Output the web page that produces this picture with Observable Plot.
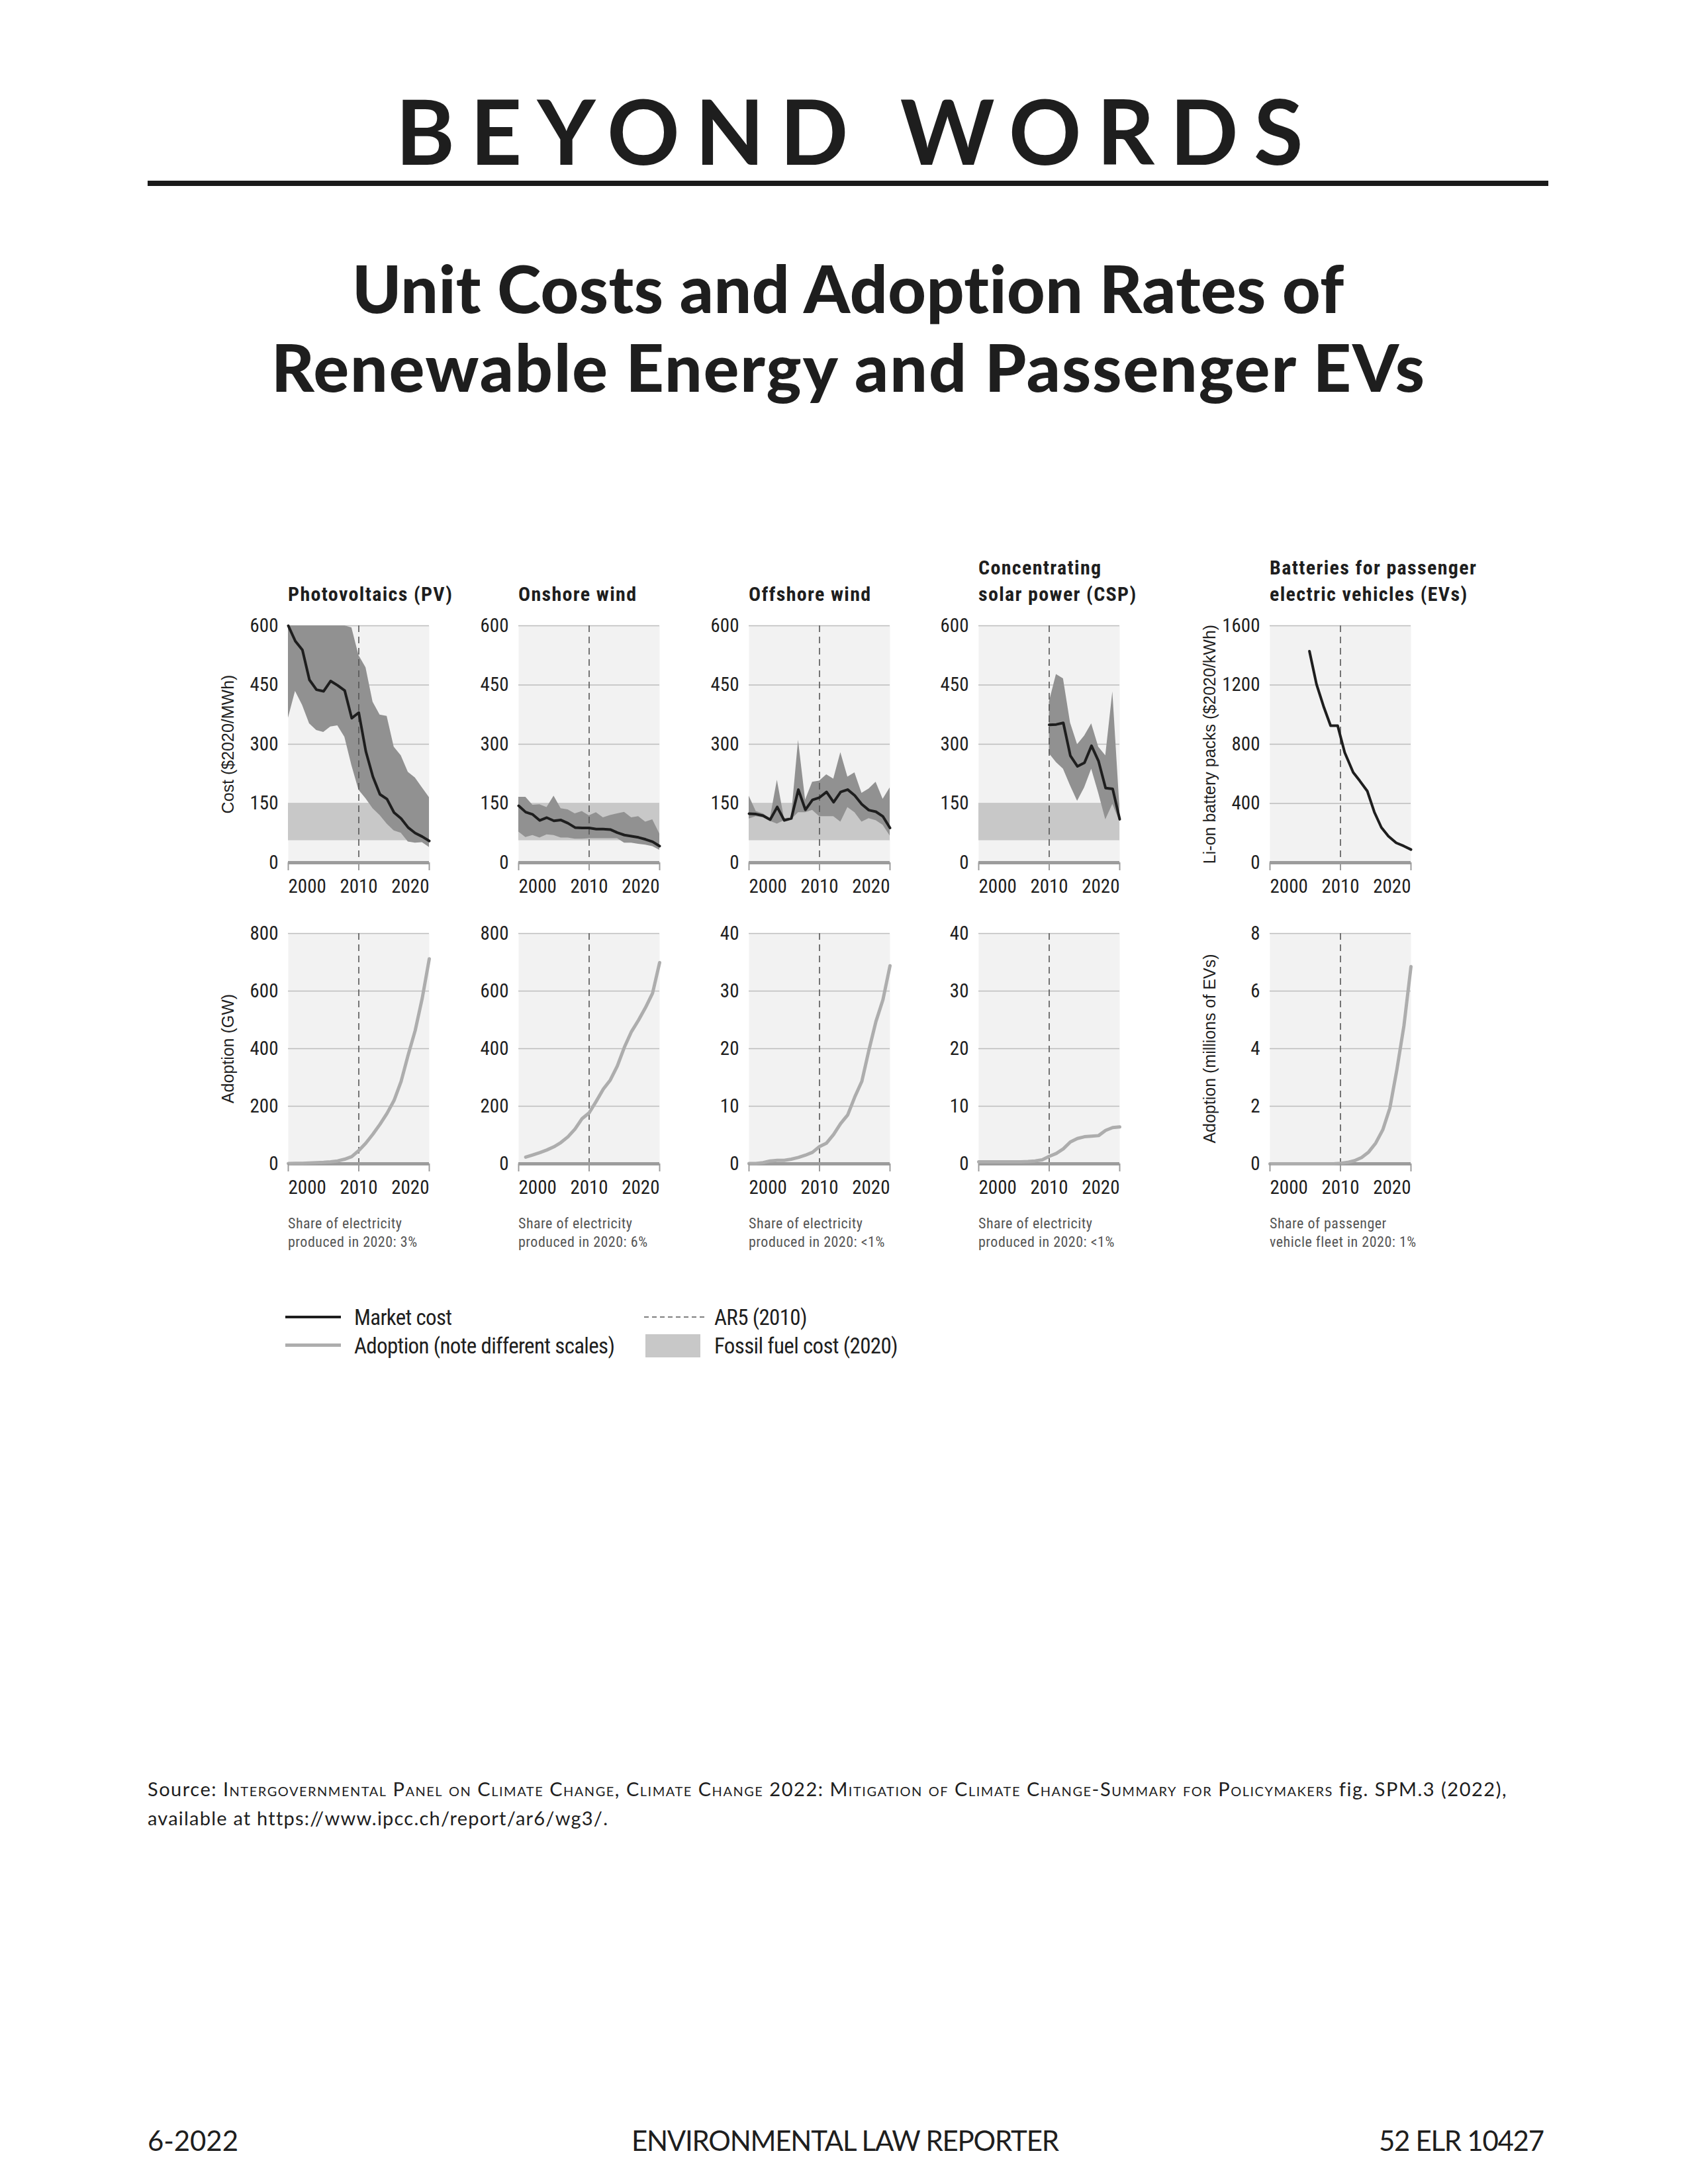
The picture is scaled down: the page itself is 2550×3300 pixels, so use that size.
<!DOCTYPE html>
<html>
<head>
<meta charset="utf-8">
<script src="https://cdn.jsdelivr.net/npm/d3@7"></script>
<script src="https://cdn.jsdelivr.net/npm/@observablehq/plot@0.6"></script>
<style>
html, body { margin: 0; padding: 0; background: #fff; }
#page { position: relative; width: 2550px; height: 3300px; background: #fff; overflow: hidden; color: #1a1a1a; }
#page svg { position: absolute; }
</style>
</head>
<body>
<div id="page"></div>
<script>
// ---------------- DATA ----------------
const years = [2000,2001,2002,2003,2004,2005,2006,2007,2008,2009,2010,2011,2012,2013,2014,2015,2016,2017,2018,2019,2020];

// Unit costs, $2020/MWh (PV upper band is off the scale before 2009; shown at the 600 ceiling)
const pvCost      = [600,561,539,463,438,434,460,449,436,366,380,282,218,173,161,127,112,89,75,66,55];
const pvCostLow   = [366,434,399,352,335,330,344,347,318,246,184,162,137,120,98,81,75,53,50,51,39];
const pvCostHigh  = [600,600,600,600,600,600,600,600,600,595,525,494,407,374,371,293,271,229,215,190,165];

const onshoreCost     = [144,128,122,107,114,106,108,100,89,88,88,85,85,84,76,70,67,64,59,53,42];
const onshoreCostLow  = [78,64,69,63,71,69,63,63,60,60,61,61,61,61,61,50,50,47,45,41,32];
const onshoreCostHigh = [166,166,146,147,140,169,137,134,124,130,119,127,114,120,124,128,114,117,103,109,73];

const offshoreCost     = [124,123,119,109,141,107,112,185,134,159,165,179,153,179,185,170,148,133,129,117,88];
const offshoreCostLow  = [111,117,114,105,98,107,109,127,127,133,117,117,117,103,140,127,103,112,107,95,68];
const offshoreCostHigh = [169,130,124,112,209,112,114,310,159,204,207,223,212,279,217,228,176,187,204,161,190];

const cspYears    = [2010,2011,2012,2013,2014,2015,2016,2017,2018,2019,2020];
const cspCost     = [349,350,354,271,244,253,296,257,189,187,110];
const cspCostLow  = [276,254,237,195,156,190,237,176,109,148,105];
const cspCostHigh = [407,477,466,354,299,321,352,293,271,433,140];

// Li-on battery packs, $2020/kWh
const batteryYears = [2005.6,2006.6,2007.6,2008.6,2009.6,2010.6,2011.8,2012.7,2013.8,2014.8,2015.8,2016.8,2017.9,2019.0,2020];
const batteryCost  = [1428,1205,1056,925,925,744,610,555,484,342,238,179,134,112,89];

// Adoption
const pvAdoption       = [1,1.5,2,3,4,5,7,10,16,25,46,72,103,137,175,220,286,378,463,575,712];           // GW
const onshoreYears     = [2001,2002,2003,2004,2005,2006,2007,2008,2009,2010,2011,2012,2013,2014,2015,2016,2017,2018,2019,2020];
const onshoreAdoption  = [23,31,39,48,59,74,94,121,157,177,217,259,291,340,405,459,499,543,593,699];   // GW
const offshoreAdoption = [0.05,0.05,0.2,0.5,0.6,0.6,0.8,1.1,1.5,2.0,3.0,3.6,5.1,7.0,8.5,11.6,14.3,19.7,24.7,28.5,34.4]; // GW
const cspAdoption      = [0.35,0.35,0.35,0.35,0.35,0.35,0.35,0.4,0.5,0.7,1.3,1.8,2.6,3.8,4.4,4.7,4.8,4.9,5.8,6.3,6.4]; // GW
const evAdoption       = [0,0,0,0,0,0,0,0,0,0,0.02,0.05,0.11,0.22,0.41,0.72,1.18,1.93,3.27,4.79,6.85]; // millions

const fossilRange = [56, 148];   // fossil fuel cost (2020), $2020/MWh
const ar5Year = 2010;
const xDomain = [2000, 2020];

// ticks
const yearTicks    = [2000, 2010, 2020];
const costTicks    = [0, 150, 300, 450, 600];
const batteryTicks = [0, 400, 800, 1200, 1600];
const gwTicks      = [0, 200, 400, 600, 800];
const smallGwTicks = [0, 10, 20, 30, 40];
const evTicks      = [0, 2, 4, 6, 8];

// texts
const panelTitles = [
  ["Photovoltaics (PV)"],
  ["Onshore wind"],
  ["Offshore wind"],
  ["Concentrating", "solar power (CSP)"],
  ["Batteries for passenger", "electric vehicles (EVs)"]
];
const panelNotes = [
  ["Share of electricity", "produced in 2020: 3%"],
  ["Share of electricity", "produced in 2020: 6%"],
  ["Share of electricity", "produced in 2020: <1%"],
  ["Share of electricity", "produced in 2020: <1%"],
  ["Share of passenger", "vehicle fleet in 2020: 1%"]
];
const costLabel = "Cost ($2020/MWh)";
const batteryLabel = "Li-on battery packs ($2020/kWh)";
const gwLabel = "Adoption (GW)";
const evLabel = "Adoption (millions of EVs)";
const legendItems = ["Market cost", "Adoption (note different scales)", "AR5 (2010)", "Fossil fuel cost (2020)"];

// ---------------- FONTS ----------------
const REG = '"Liberation Sans",Arial,sans-serif';
const GEO = 'Lato,"Noto Sans",sans-serif';
const INK = "#1e1e1e";
const page = document.getElementById("page");

function textWidth(family, stretch, weight, str, size = 100) {
  const s = document.createElement("span");
  Object.assign(s.style, {position: "absolute", visibility: "hidden", whiteSpace: "nowrap", fontSize: size + "px",
    fontFamily: family, fontStretch: stretch, fontWeight: weight, letterSpacing: "0px"});
  s.textContent = str;
  document.body.appendChild(s);
  const w = s.getBoundingClientRect().width;
  s.remove();
  return w;
}
const SAMPLE = "Photovoltaics 2000 Adoption (GW)";
function hasFamily(name) {
  return ["monospace", "serif"].some(b => Math.abs(textWidth(name + "," + b, "normal", 400, SAMPLE) - textWidth(b, "normal", 400, SAMPLE)) > 0.5);
}
function pickCondensed() {
  const base = textWidth('"Liberation Sans",sans-serif', "normal", 400, SAMPLE);
  const cands = [
    ['"Liberation Sans Narrow"', "normal"],
    ['"Roboto Condensed"', "normal"],
    ['"Noto Sans"', "condensed"],
    ['"Open Sans"', "condensed"],
    ['"DejaVu Sans"', "condensed"],
    ['"Noto Sans"', "semi-condensed"],
    ['"Open Sans"', "semi-condensed"],
    ['Roboto', "condensed"]
  ];
  let best = null, bestScore = Infinity;
  for (const [fam, st] of cands) {
    if (!hasFamily(fam)) continue;
    const wN = textWidth(fam + ",serif", "normal", 400, SAMPLE);
    const wS = textWidth(fam + ",serif", st, 400, SAMPLE);
    if (st !== "normal" && wS > wN * 0.97) continue; // no condensed face
    const r = wS / base;
    if (r > 0.95 || r < 0.65) continue;
    const score = Math.abs(r - 0.84);
    if (score < bestScore) { bestScore = score; best = {family: fam + ",sans-serif", stretch: st}; }
  }
  return best || {family: REG, stretch: "normal"};
}
const CF = pickCondensed();
const COND = CF.family;
const STRETCH = CF.stretch;

// sizes from cap heights; letter-spacing from widths
const TICK_SIZE = 29, TITLE_SIZE = 30, NOTE_SIZE = 22, LEGEND_SIZE = 33, YLABEL_SIZE = 25;
const clampLs = v => Math.max(-1.2, Math.min(3, v));
const lsFor = (target, str, size, weight) => clampLs((target - textWidth(COND, STRETCH, weight, str, size)) / ([...str].length - 1));
const TITLE_LS = lsFor(248, panelTitles[0][0], TITLE_SIZE, 700);
const NOTE_LS = lsFor(172, panelNotes[0][0], NOTE_SIZE, 400);
const LEGEND_LS = lsFor(394, legendItems[1], LEGEND_SIZE, 400);

// ---------------- LAYOUT HELPERS ----------------
function addText(content, o) {
  const d = document.createElement("div");
  const size = o.size;
  Object.assign(d.style, {
    position: "absolute", whiteSpace: "nowrap", fontFamily: o.family, fontStretch: o.stretch || "normal",
    fontSize: size + "px", lineHeight: size + "px", fontWeight: o.weight || 400,
    color: o.color || INK, left: "0px", top: "0px", letterSpacing: "0px"
  });
  if (o.html) d.innerHTML = content; else d.textContent = content;
  page.appendChild(d);
  let ls = o.ls || 0;
  if (o.fit) {
    const w0 = d.getBoundingClientRect().width;
    const n = [...d.textContent].length;
    ls = (o.fit - w0) / (n - 1);
  }
  d.style.letterSpacing = ls + "px";
  const w = d.getBoundingClientRect().width - ls;
  const off = o.family === GEO ? 0.887 : 0.85;
  d.style.top = (o.baseline - off * size) + "px";
  let left = o.x;
  if (o.anchor === "middle") left = o.x - w / 2;
  else if (o.anchor === "end") left = o.x - w;
  d.style.left = left + "px";
  return d;
}
function box(left, top, width, height, bg) {
  const d = document.createElement("div");
  Object.assign(d.style, {position: "absolute", left: left + "px", top: top + "px", width: width + "px", height: height + "px", background: bg});
  page.appendChild(d);
}

// ---------------- HEADER ----------------
addText("BEYOND WORDS", {x: 1283, baseline: 250, size: 136, family: GEO, weight: 700, anchor: "middle", fit: 1371});
box(223, 273, 2116, 8, "#1a1a1a");
addText("Unit Costs and Adoption Rates of", {x: 1281, baseline: 473, size: 100, family: GEO, weight: 900, anchor: "middle", fit: 1500});
addText("Renewable Energy and Passenger EVs", {x: 1281, baseline: 592, size: 100, family: GEO, weight: 900, anchor: "middle", fit: 1742});

// ---------------- PANELS ----------------
const PW = 213;
const plotLefts = [435, 783, 1131, 1478, 1918];
const TOP = {y: 945, h: 358};
const BOT = {y: 1410, h: 348};
const M = {l: 130, r: 15, t: 10, b: 60};

const zip = (xs, cols) => xs.map((x, i) => Object.fromEntries([["year", x], ...Object.entries(cols).map(([k, v]) => [k, v[i]])]));

const xAxisCommon = {tickFormat: d => String(d), tickSize: 12, tickPadding: 13, stroke: "#9c9c9c", strokeWidth: 2, fill: INK, label: null};

function panel(i, row, yTicks, yLabel, under, over) {
  const chart = Plot.plot({
    width: M.l + PW + M.r, height: M.t + row.h + M.b,
    marginLeft: M.l, marginRight: M.r, marginTop: M.t, marginBottom: M.b,
    style: {fontFamily: COND, fontStretch: STRETCH, fontSize: TICK_SIZE + "px", color: INK, background: "transparent", overflow: "visible"},
    x: {domain: xDomain},
    y: {domain: [yTicks[0], yTicks[yTicks.length - 1]]},
    marks: [
      Plot.frame({fill: "#f2f2f2", stroke: "none"}),
      Plot.ruleY(yTicks.filter(t => t > 0), {stroke: "#bdbdbd", strokeWidth: 1.6}),
      ...under,
      Plot.ruleX([ar5Year], {stroke: "#555", strokeWidth: 1.6, strokeDasharray: "10,7"}),
      Plot.ruleY([0], {stroke: "#9c9c9c", strokeWidth: 5}),
      ...over,
      Plot.axisX({...xAxisCommon, ticks: [yearTicks[0]], textAnchor: "start"}),
      Plot.axisX({...xAxisCommon, ticks: [yearTicks[1]]}),
      Plot.axisX({...xAxisCommon, ticks: [yearTicks[2]], textAnchor: "end"}),
      Plot.axisY({ticks: yTicks, tickFormat: d => String(d), tickSize: 0, tickPadding: 15, fill: INK, label: null}),
      yLabel ? Plot.text([yLabel], {text: d => d, frameAnchor: "left", rotate: -90, dx: -100, lineAnchor: "top", textAnchor: "middle", fontFamily: REG, fontSize: YLABEL_SIZE, fill: INK}) : null
    ]
  });
  chart.style.left = (plotLefts[i] - M.l) + "px";
  chart.style.top = (row.y - M.t) + "px";
  page.appendChild(chart);
}

const fossil = Plot.rect([fossilRange], {x1: () => xDomain[0], x2: () => xDomain[1], y1: d => d[0], y2: d => d[1], fill: "#c8c8c8"});
const band = data => Plot.areaY(data, {x: "year", y1: "low", y2: "high", fill: "#919191"});
const costLine = data => Plot.line(data, {x: "year", y: "cost", stroke: INK, strokeWidth: 4});
const adoptLine = data => Plot.line(data, {x: "year", y: "value", stroke: "#adadad", strokeWidth: 5});

const pvT = zip(years, {cost: pvCost, low: pvCostLow, high: pvCostHigh});
const onT = zip(years, {cost: onshoreCost, low: onshoreCostLow, high: onshoreCostHigh});
const offT = zip(years, {cost: offshoreCost, low: offshoreCostLow, high: offshoreCostHigh});
const cspT = zip(cspYears, {cost: cspCost, low: cspCostLow, high: cspCostHigh});
const batT = zip(batteryYears, {cost: batteryCost});

panel(0, TOP, costTicks, costLabel, [fossil, band(pvT)], [costLine(pvT)]);
panel(1, TOP, costTicks, null, [fossil, band(onT)], [costLine(onT)]);
panel(2, TOP, costTicks, null, [fossil, band(offT)], [costLine(offT)]);
panel(3, TOP, costTicks, null, [fossil, band(cspT)], [costLine(cspT)]);
panel(4, TOP, batteryTicks, batteryLabel, [], [costLine(batT)]);

panel(0, BOT, gwTicks, gwLabel, [], [adoptLine(zip(years, {value: pvAdoption}))]);
panel(1, BOT, gwTicks, null, [], [adoptLine(zip(onshoreYears, {value: onshoreAdoption}))]);
panel(2, BOT, smallGwTicks, null, [], [adoptLine(zip(years, {value: offshoreAdoption}))]);
panel(3, BOT, smallGwTicks, null, [], [adoptLine(zip(years, {value: cspAdoption}))]);
panel(4, BOT, evTicks, evLabel, [], [adoptLine(zip(years, {value: evAdoption}))]);

// panel titles and notes
panelTitles.forEach((lines, i) => {
  lines.forEach((t, j) => addText(t, {x: plotLefts[i], baseline: 908 - 40 * (lines.length - 1 - j), size: TITLE_SIZE, family: COND, stretch: STRETCH, weight: 700, ls: TITLE_LS}));
});
panelNotes.forEach((lines, i) => {
  lines.forEach((t, j) => addText(t, {x: plotLefts[i], baseline: 1857 + 28 * j, size: NOTE_SIZE, family: COND, stretch: STRETCH, color: "#555", ls: NOTE_LS}));
});

// ---------------- LEGEND ----------------
box(431, 1988, 84, 4, INK);
box(431, 2030, 84, 5, "#adadad");
box(975, 2016, 83, 35, "#c8c8c8");
{
  const ns = "http://www.w3.org/2000/svg";
  const s = document.createElementNS(ns, "svg");
  s.setAttribute("width", 100); s.setAttribute("height", 10);
  s.style.left = "971px"; s.style.top = "1985px";
  const l = document.createElementNS(ns, "line");
  l.setAttribute("x1", 2); l.setAttribute("x2", 96); l.setAttribute("y1", 5); l.setAttribute("y2", 5);
  l.setAttribute("stroke", "#555"); l.setAttribute("stroke-width", 1.6); l.setAttribute("stroke-dasharray", "7,5");
  s.appendChild(l); page.appendChild(s);
}
addText(legendItems[0], {x: 535, baseline: 2002, size: LEGEND_SIZE, family: COND, stretch: STRETCH, ls: LEGEND_LS});
addText(legendItems[1], {x: 535, baseline: 2045, size: LEGEND_SIZE, family: COND, stretch: STRETCH, ls: LEGEND_LS});
addText(legendItems[2], {x: 1079, baseline: 2002, size: LEGEND_SIZE, family: COND, stretch: STRETCH, ls: LEGEND_LS});
addText(legendItems[3], {x: 1079, baseline: 2045, size: LEGEND_SIZE, family: COND, stretch: STRETCH, ls: LEGEND_LS});

// ---------------- SOURCE & FOOTER ----------------
addText('Source: <span style="font-variant:small-caps">Intergovernmental Panel on Climate Change, Climate Change 2022: Mitigation of Climate Change-Summary for Policymakers</span> fig. SPM.3 (2022),',
  {html: true, x: 223, baseline: 2714, size: 29, family: GEO, fit: 2052});
addText("available at https://www.ipcc.ch/report/ar6/wg3/.", {x: 223, baseline: 2758, size: 29, family: GEO, fit: 694});

addText("6-2022", {x: 223, baseline: 3250, size: 42, family: GEO, fit: 137});
addText("ENVIRONMENTAL LAW REPORTER", {x: 1277, baseline: 3250, size: 42, family: GEO, anchor: "middle", fit: 646});
addText("52 ELR 10427", {x: 2333, baseline: 3250, size: 42, family: GEO, anchor: "end", fit: 250});
</script>
</body>
</html>
